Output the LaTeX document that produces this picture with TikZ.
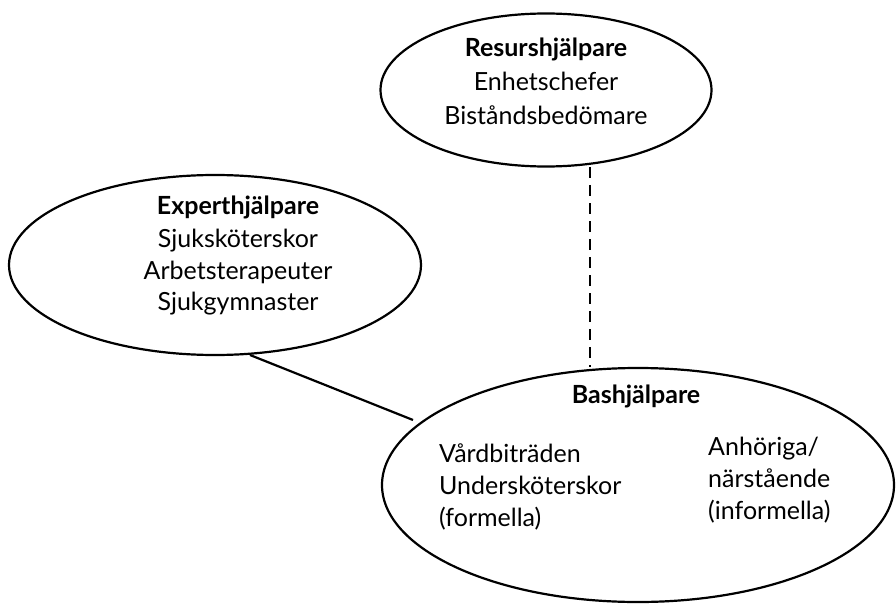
\documentclass[tikz,border=0pt]{standalone}
\usepackage{fontspec}
\setmainfont{Lato}
\usetikzlibrary{shapes.geometric}
\begin{document}
\begin{tikzpicture}[x=1pt,y=-1pt,
  blob/.style={draw=black,line width=2.2pt,ellipse,inner sep=0pt},
  txt/.style={font=\fontsize{25}{32}\selectfont,inner sep=0pt,anchor=base},
  txl/.style={font=\fontsize{25}{32}\selectfont,inner sep=0pt,anchor=base west}]
\useasboundingbox (0,0) rectangle (896,604);
% ellipses
\node[blob,minimum width=331pt,minimum height=153pt] (res) at (546,90) {};
\node[blob,minimum width=412pt,minimum height=180pt] (exp) at (215,265) {};
\node[blob,minimum width=512pt,minimum height=234pt] (bas) at (638,485) {};
% texts
\node[txt] (t1) at (546,57) {\textbf{Resurshjälpare}};
\node[txt] (t2) at (546,91) {Enhetschefer};
\node[txt] (t3) at (546,125) {Biståndsbedömare};
\node[txt] (e1) at (238,214) {\textbf{Experthjälpare}};
\node[txt] (e2) at (238,247) {Sjuksköterskor};
\node[txt] (e3) at (238,279) {Arbetsterapeuter};
\node[txt] (e4) at (238,310) {Sjukgymnaster};
\node[txt] (b0) at (636,403) {\textbf{Bashjälpare}};
\node[txl] (b1) at (439,462) {Vårdbiträden};
\node[txl] (b2) at (439,494) {Undersköterskor};
\node[txl] (b3) at (439,526) {(formella)};
\node[txl] (b4) at (708,455) {Anhöriga/};
\node[txl] (b5) at (708,487) {närstående};
\node[txl] (b6) at (708,519) {(informella)};
% connectors
\coordinate (ea) at (250,355);
\coordinate (ba) at (413,420);
\draw[line width=2.2pt] (ea) -- (ba);
\coordinate (ra) at (590,167);
\coordinate (rb) at (590,367);
\draw[line width=2.2pt,dash pattern=on 11pt off 7pt] (ra) -- (rb);
\end{tikzpicture}
\end{document}
